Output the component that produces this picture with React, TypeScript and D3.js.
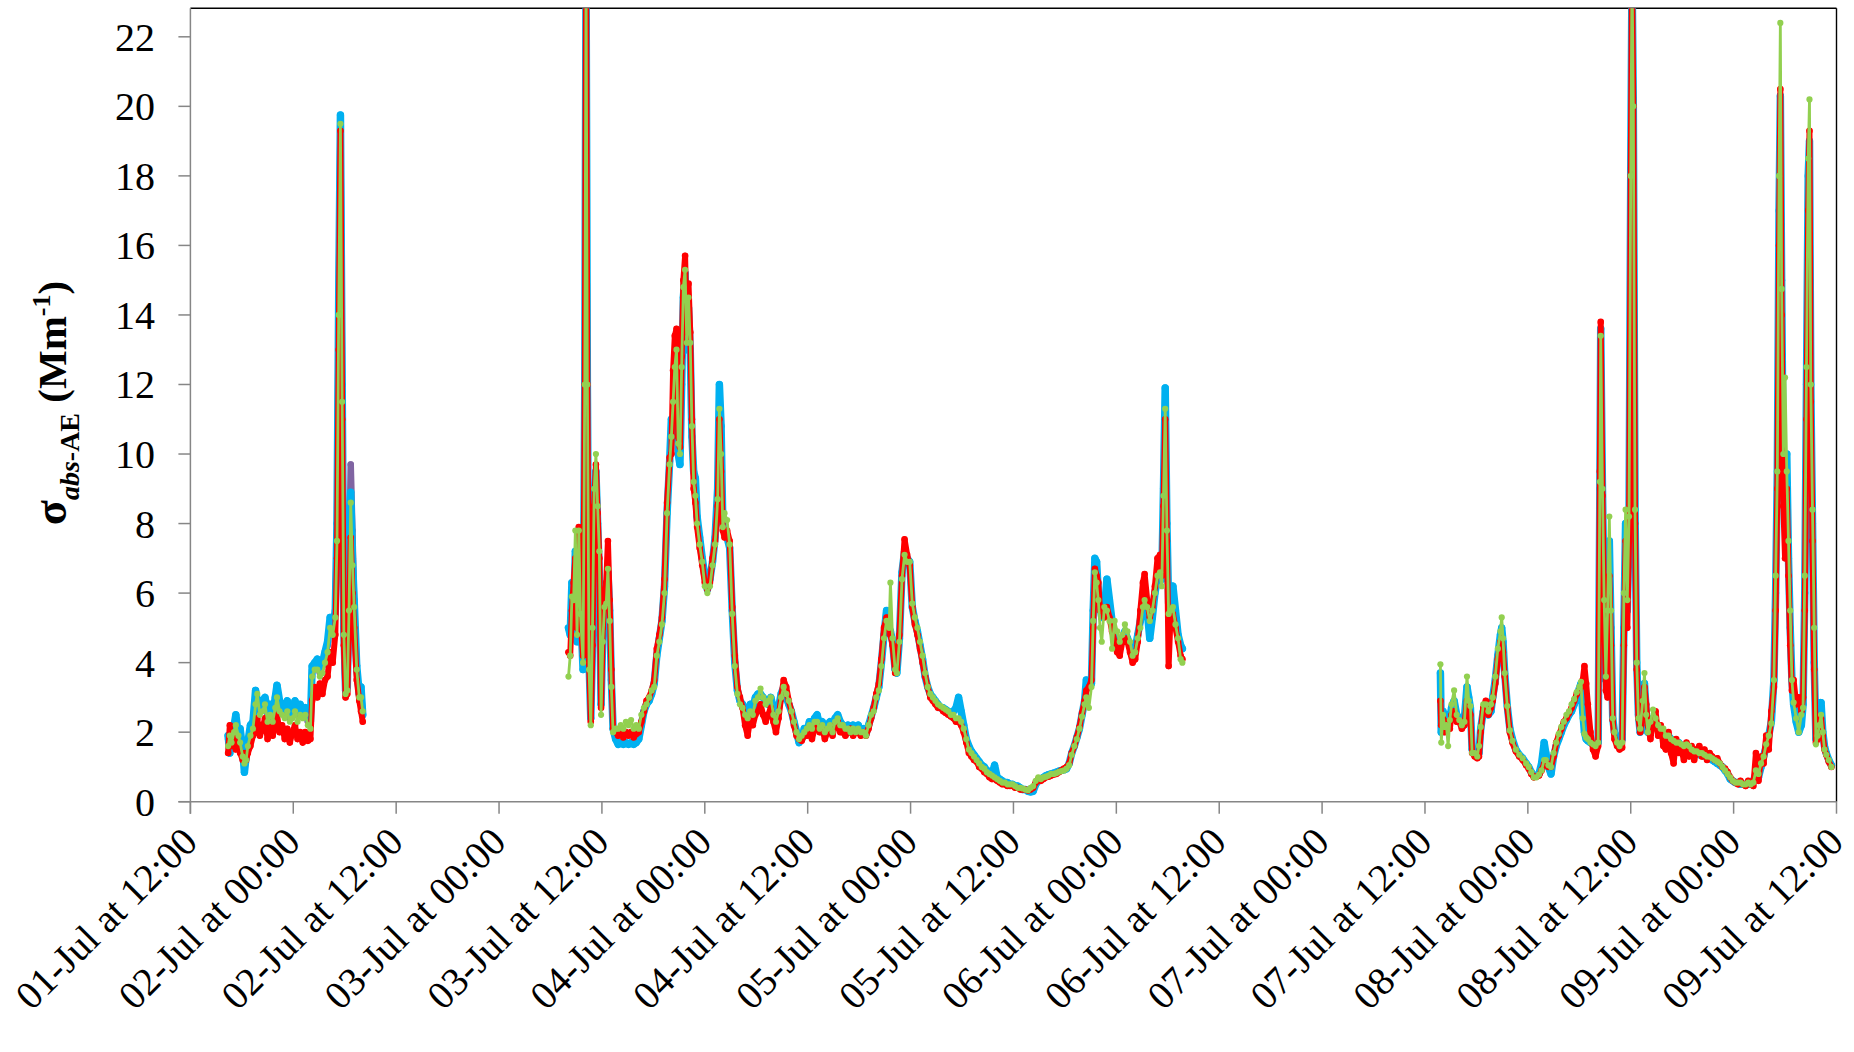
import React from "react";
import * as d3 from "d3";

// ---------- DATA (hours since 01-Jul 00:00) ----------
const seg1Times = [16.4,16.6,16.8,17.1,17.3,17.6,17.8,18.1,18.3,18.5,18.7,19.0,19.3,19.6,19.8,20.1,20.4,20.7,21.0,21.3,21.6,21.9,22.1,22.4,22.7,23.0,23.3,23.6,23.9,24.2,24.5,24.8,25.1,25.4,25.7,26.0,26.2,26.5,26.8,27.1,27.4,27.7,28.0,28.3,28.6,28.9,29.1,29.3,29.5,29.7,29.9,30.1,30.3,30.5,30.7,30.9,31.1,31.4,31.7,31.9,32.1];
const seg1Purple = [1.8,1.5,1.9,2.1,2.3,1.9,2.0,1.5,1.0,1.3,1.7,2.1,2.2,3.0,2.8,2.6,2.8,2.9,2.5,2.7,2.4,2.9,3.2,2.8,2.7,2.5,2.8,2.4,2.6,2.8,2.5,2.7,2.5,2.6,2.3,2.2,3.8,3.9,4.0,3.7,3.9,4.2,4.5,5.2,4.9,5.4,7.8,14.2,19.5,11.8,4.9,3.1,3.2,6.5,9.7,7.8,5.7,3.8,3.0,3.2,2.5];
const seg1Blue = [1.9,1.4,2.0,2.2,2.5,1.9,2.1,1.5,0.85,1.3,1.7,2.2,2.3,3.2,2.9,2.7,2.9,3.0,2.6,2.8,2.5,3.0,3.35,2.9,2.8,2.6,2.9,2.5,2.7,2.9,2.6,2.8,2.6,2.7,2.4,2.3,3.9,4.0,4.1,3.8,4.0,4.3,4.6,5.3,5.0,5.5,8.0,14.5,19.75,12.0,5.0,3.2,3.3,6.0,8.9,7.0,5.8,3.9,3.1,3.3,2.5];
const seg1Red = [1.4,2.2,1.6,1.9,1.5,1.7,1.4,1.2,1.4,1.2,1.4,1.6,1.9,2.0,2.4,1.9,2.1,2.4,1.8,2.2,1.9,2.3,2.5,2.0,2.2,1.8,2.1,1.7,2.0,2.2,1.8,2.0,1.7,2.0,1.75,1.8,2.9,3.3,3.0,3.4,3.1,3.5,3.6,4.3,4.0,4.8,7.0,13.0,19.3,11.0,4.5,3.0,3.1,5.0,7.6,6.0,5.0,3.5,2.9,2.6,2.3];
const seg1Green = [1.6,1.9,1.7,2.0,2.2,1.9,1.7,1.3,1.1,1.2,1.6,1.9,2.1,2.8,3.1,2.5,2.6,2.8,2.3,2.5,2.3,2.7,3.0,2.6,2.5,2.4,2.6,2.3,2.4,2.6,2.3,2.5,2.4,2.5,2.2,2.1,3.6,3.8,3.8,3.6,3.7,4.0,4.3,5.0,4.8,5.3,7.5,14.0,19.5,11.5,4.8,3.1,3.2,5.5,8.6,6.8,5.6,3.8,3.0,3.0,2.6];

const seg2Times = [
56.1,56.3,56.5,56.7,56.9,57.1,57.3,57.5,57.8,58.0,
58.15,58.3,58.5,58.7,58.9,59.1,59.3,59.5,59.7,59.9,
60.1,60.3,60.5,60.7,60.9,61.1,61.3,61.6,61.9,62.2,
62.5,62.8,63.1,63.4,63.7,64.0,64.3,64.6,64.9,65.2,
65.5,65.8,66.1,66.4,66.7,67.0,67.3,67.6,67.9,68.1,
68.3,68.5,68.7,68.9,69.1,69.3,69.5,69.7,69.9,70.1,
70.3,70.5,70.7,70.9,71.1,71.4,71.7,72.0,72.3,72.6,
72.9,73.2,73.5,73.7,73.9,74.1,74.3,74.6,74.9,75.2,
75.5,75.8,76.1,76.4,76.7,77.0,77.3,77.6,77.9,78.2,
78.5,78.8,79.1,79.4,79.7,80.0,80.3,80.6,80.9,81.2,
81.5,81.8,82.1,82.4,82.7,83.0,83.3,83.6,83.9,84.2,
84.5,84.8,85.1,85.4,85.7,86.0,86.3,86.6,86.9,87.2,
87.5,87.8,88.1,88.4,88.7,89.0,89.3,89.6,89.9,90.2,
90.5,90.8,91.1,91.4,91.7,92.0,92.3,92.6,92.9,93.2,
93.5,93.65,93.9,94.2,94.4,94.7,95.0,95.3,95.6,95.9,
96.2,96.5,96.8,97.1,97.4,97.7,98.0,98.3,98.6,98.9,
99.2,99.5,99.8,100.1,100.4,100.7,101.0,101.3,101.6,101.9,
102.2,102.5,102.8,103.1,103.4,103.7,104.0,104.3,104.6,104.9,
105.2,105.5,105.8,106.1,106.4,106.7,107.0,107.3,107.6,107.9,
108.2,108.5,108.8,109.1,109.4,109.7,110.0,110.3,110.6,110.9,
111.2,111.5,111.8,112.1,112.4,112.7,113.0,113.3,113.6,113.9,
114.2,114.5,114.8,115.1,115.4,115.7,116.0,116.3,116.5,116.8,
117.1,117.3,117.5,117.7,117.9,118.1,118.3,118.6,118.9,119.2,
119.5,119.8,120.1,120.4,120.7,121.0,121.3,121.6,121.9,122.2,
122.5,122.8,123.1,123.3,123.6,123.9,124.2,124.5,124.8,125.1,
125.3,125.5,125.7,125.9,126.1,126.3,126.6,126.9,127.2,127.5,
127.7];
const seg2Blue = [
5.0,4.8,6.3,5.4,7.2,4.6,7.7,5.6,3.8,12,
24,12,4.0,2.4,4.5,8.0,9.5,8.0,6.5,2.8,
4.8,5.7,5.3,6.6,5.5,3.5,2.1,1.8,1.65,1.7,
1.65,1.7,1.65,1.7,1.65,1.7,1.8,2.2,2.6,2.8,
2.9,3.1,3.4,4.2,4.7,5.2,6.2,8.3,9.8,11.0,
10.5,11.5,12.8,10.0,9.7,12.0,14.5,15.2,13.0,14.2,
13.0,10.5,9.5,9.3,8.2,7.6,7.0,6.5,6.1,6.4,
6.9,7.6,9.0,12.0,10.8,8.0,7.8,7.6,7.3,5.5,
4.0,3.2,2.9,2.8,2.5,2.6,2.8,2.7,3.0,3.1,
3.1,3.0,2.9,2.8,3.0,2.7,2.4,2.7,3.1,3.3,
3.0,2.8,2.6,2.3,2.0,1.7,1.8,2.1,2.0,2.3,
2.1,2.4,2.5,2.2,2.3,2.1,2.2,2.3,2.1,2.4,
2.5,2.3,2.2,2.1,2.2,2.0,2.2,2.1,2.2,2.0,
2.1,1.95,2.2,2.45,2.7,3.0,3.3,4.0,4.8,5.5,
5.0,4.9,4.6,3.8,3.7,4.7,6.6,7.2,7.0,6.9,
5.6,5.2,4.9,4.5,4.1,3.6,3.3,3.1,3.0,2.9,
2.8,2.7,2.7,2.65,2.6,2.5,2.6,2.7,3.0,2.6,
2.2,1.8,1.6,1.45,1.35,1.25,1.15,1.05,1.0,0.9,
0.85,0.8,1.05,0.7,0.65,0.6,0.55,0.55,0.5,0.5,
0.45,0.45,0.4,0.35,0.35,0.3,0.28,0.3,0.5,0.6,
0.65,0.7,0.75,0.78,0.8,0.82,0.85,0.88,0.9,0.92,
0.95,1.1,1.4,1.6,1.85,2.1,2.5,2.9,3.5,3.4,
3.4,5.5,7.0,6.9,6.0,5.6,5.3,5.5,6.4,5.8,
5.2,4.8,4.6,4.5,4.7,4.9,4.7,4.5,4.3,4.4,
4.8,5.2,5.8,6.0,5.5,4.7,5.3,6.0,6.4,6.8,
6.4,9.0,11.9,8.0,5.7,5.9,6.2,5.5,4.8,4.5,
4.4];
const seg2Red = [
4.3,4.2,5.5,6.3,7.0,5.0,7.9,5.2,4.2,12,
24,12,4.0,2.3,4.5,8.5,9.7,8.3,7.0,2.7,
5.0,5.8,6.3,7.5,5.8,3.8,2.1,2.0,1.9,2.0,
1.85,2.0,1.9,2.0,1.85,1.95,2.0,2.3,2.6,2.9,
3.0,3.2,3.5,4.4,4.8,5.3,6.4,8.6,9.9,10.0,
12.4,13.4,13.6,10.5,10.2,12.8,15.0,15.7,13.5,14.9,
13.5,11.0,9.0,8.6,7.9,7.3,6.8,6.3,6.1,6.3,
7.0,7.5,8.5,11.0,9.5,7.8,7.6,7.8,7.5,5.6,
4.2,3.3,3.0,2.7,2.2,1.9,2.4,2.2,2.5,2.6,
2.8,2.5,2.3,2.5,2.7,2.3,2.0,2.4,3.0,3.5,
3.3,2.9,2.6,2.2,1.9,1.8,1.75,1.9,1.9,2.0,
1.8,2.1,2.2,2.0,2.1,1.8,2.0,2.1,1.9,2.2,
2.3,2.0,2.0,1.9,2.0,2.1,1.9,2.0,2.0,1.9,
2.0,1.9,2.1,2.4,2.7,3.1,3.4,4.1,5.0,5.3,
5.1,4.8,4.5,3.7,3.8,4.8,6.5,7.55,7.1,6.8,
5.6,5.1,4.8,4.4,4.0,3.6,3.3,3.0,2.9,2.8,
2.7,2.7,2.6,2.55,2.5,2.45,2.4,2.3,2.3,2.2,
2.0,1.7,1.4,1.3,1.2,1.15,1.0,0.95,0.85,0.8,
0.7,0.65,0.65,0.6,0.55,0.5,0.5,0.45,0.45,0.45,
0.4,0.4,0.35,0.35,0.35,0.32,0.35,0.4,0.55,0.65,
0.6,0.65,0.7,0.72,0.75,0.78,0.8,0.85,0.9,0.95,
1.0,1.1,1.4,1.6,1.85,2.15,2.55,2.9,3.2,3.3,
3.5,5.0,6.7,6.5,6.3,5.5,5.6,5.3,5.6,5.3,
4.9,4.6,4.3,4.2,4.6,4.7,4.6,4.3,4.0,4.1,
4.6,5.5,6.3,6.55,5.8,5.3,5.6,6.2,7.0,7.1,
6.5,8.5,11.0,7.5,3.9,5.2,5.4,5.0,4.6,4.2,
4.1];
const seg2Green = [
3.6,4.2,5.9,5.8,7.8,4.8,7.8,5.4,4.0,12,
24,12,3.8,2.2,5.0,9.0,10.0,8.5,7.2,2.5,
4.6,5.6,5.7,6.7,5.2,3.3,2.0,2.1,2.1,2.2,
2.1,2.3,2.2,2.35,2.1,2.2,2.1,2.5,2.7,2.8,
3.0,3.2,3.3,4.2,4.6,5.1,6.0,8.3,9.7,10.5,
11.5,12.5,13.0,10.3,10.0,12.5,14.8,15.3,13.2,14.5,
13.2,10.8,9.2,8.8,8.0,7.4,6.9,6.2,6.0,6.2,
6.8,7.4,8.7,11.3,10.0,7.9,8.3,8.1,7.4,5.4,
3.9,3.1,2.8,2.7,2.5,2.4,2.6,2.5,2.9,3.0,
3.25,3.0,2.8,2.9,3.0,2.5,2.3,2.6,3.0,3.3,
3.1,2.9,2.6,2.3,2.0,1.8,1.9,2.0,2.1,2.2,
2.1,2.3,2.3,2.1,2.2,2.0,2.1,2.2,2.0,2.3,
2.4,2.2,2.2,2.1,2.1,2.0,2.1,2.0,2.1,2.0,
2.0,1.9,2.2,2.5,2.6,3.0,3.2,3.9,4.7,5.2,
5.0,6.3,4.7,3.8,3.7,4.6,6.4,7.1,6.9,6.9,
5.7,5.3,5.0,4.6,4.2,3.7,3.3,3.1,3.0,2.9,
2.8,2.75,2.7,2.65,2.6,2.5,2.5,2.4,2.4,2.3,
2.1,1.8,1.5,1.4,1.3,1.2,1.1,1.0,0.95,0.85,
0.8,0.75,0.7,0.65,0.6,0.55,0.55,0.5,0.5,0.5,
0.45,0.4,0.4,0.38,0.35,0.33,0.4,0.45,0.6,0.7,
0.65,0.7,0.72,0.75,0.8,0.8,0.82,0.86,0.88,0.9,
0.95,1.05,1.35,1.6,1.8,2.1,2.45,2.8,3.0,2.7,
3.3,5.2,6.6,6.3,5.8,5.0,4.6,5.6,5.5,5.2,
4.4,5.2,4.9,4.6,4.8,5.1,4.9,4.6,4.2,4.3,
4.7,5.0,5.6,5.8,5.6,5.2,5.5,6.0,6.5,6.6,
6.2,8.8,11.3,7.8,5.4,5.5,5.6,5.1,4.7,4.1,
4.0];

const seg3Times = [
157.8,157.9,158.1,158.3,158.5,158.7,158.9,159.1,159.4,159.7,
160.0,160.3,160.6,160.9,161.1,161.3,161.5,161.8,162.1,162.3,
162.5,162.8,163.1,163.4,163.7,163.9,164.2,164.5,164.8,164.95,
165.1,165.3,165.6,165.9,166.2,166.6,167.0,167.4,167.8,168.1,
168.4,168.7,169.0,169.3,169.6,169.9,170.1,170.4,170.7,171.0,
171.3,171.6,171.9,172.2,172.5,172.8,173.1,173.4,173.7,174.0,
174.2,174.4,174.6,174.8,175.0,175.3,175.6,175.9,176.2,176.4,
176.5,176.7,176.9,177.1,177.3,177.5,177.7,177.9,178.1,178.4,
178.7,179.0,179.2,179.4,179.6,179.8,180.0,180.15,180.3,180.5,
180.7,180.9,181.1,181.4,181.6,181.8,182.0,182.3,182.6,182.9,
183.2,183.5,183.8,184.1,184.4,184.7,185.0,185.3,185.6,185.9,
186.2,186.5,186.8,187.1,187.4,187.7,188.0,188.3,188.6,188.9,
189.2,189.5,189.8,190.1,190.4,190.7,191.0,191.3,191.6,191.9,
192.2,192.5,192.8,193.1,193.4,193.7,194.0,194.3,194.6,194.9,
195.2,195.5,195.8,196.1,196.4,196.7,196.9,197.1,197.3,197.45,
197.6,197.8,198.0,198.2,198.4,198.6,198.8,199.0,199.3,199.6,
199.9,200.1,200.3,200.5,200.7,200.85,201.0,201.2,201.4,201.6,
201.8,202.0,202.2,202.4,202.6,202.8,203.1,203.4];
const seg3Blue = [
3.7,2.0,2.6,2.2,2.4,2.5,2.4,2.7,2.9,2.5,
2.4,2.3,2.4,3.3,3.0,2.7,1.5,1.4,1.3,1.4,
2.1,2.6,2.7,2.5,2.6,3.0,3.5,4.2,4.8,5.0,
4.6,3.7,2.75,2.1,1.8,1.5,1.35,1.25,1.1,1.0,
0.85,0.75,0.75,0.8,1.1,1.7,1.4,1.0,0.8,1.3,
1.6,1.8,2.0,2.2,2.35,2.5,2.6,2.8,3.0,3.25,
3.4,2.6,2.0,1.8,1.75,1.7,1.65,1.6,1.7,9.0,
13.6,9.0,5.7,3.5,4.5,7.5,5.0,2.4,2.0,1.7,
1.6,1.8,5.0,8.0,5.5,8.0,18,24,20,8.4,
4.0,2.5,2.0,2.6,3.4,2.6,2.0,2.2,2.4,2.3,
2.1,2.0,2.0,1.8,1.9,1.8,1.7,1.65,1.7,1.6,
1.55,1.5,1.5,1.45,1.4,1.4,1.35,1.35,1.3,1.3,
1.25,1.2,1.15,1.1,1.05,1.0,0.9,0.8,0.65,0.6,
0.55,0.55,0.5,0.5,0.5,0.5,0.55,0.6,0.8,0.7,
1.0,1.3,1.6,1.9,2.3,3.5,6.0,9.5,17,20.3,
15.0,9.0,8.5,10.0,7.0,5.0,3.5,2.8,2.3,2.0,
2.2,2.8,6.0,12.0,18.0,19.0,12.0,8.0,4.0,1.8,
1.9,2.3,2.85,2.0,1.6,1.4,1.2,1.05];
const seg3Red = [
2.9,2.2,2.4,2.0,2.3,2.2,2.1,2.5,2.6,2.3,
2.3,2.1,2.2,2.9,2.7,2.5,1.4,1.3,1.25,1.3,
2.0,2.7,2.9,2.5,2.7,2.9,3.4,4.1,4.6,4.7,
4.3,3.6,2.7,2.0,1.7,1.45,1.3,1.2,1.05,0.95,
0.8,0.7,0.72,0.75,0.9,1.1,1.15,1.0,1.0,1.3,
1.7,1.9,2.1,2.3,2.4,2.55,2.7,2.9,3.1,3.2,
3.3,3.5,3.9,3.4,2.8,2.0,1.5,1.3,1.6,9.5,
13.8,8.8,5.5,3.2,3.0,6.5,4.5,2.35,1.8,1.6,
1.5,1.55,4.5,7.5,5.0,7.5,18,24,20,8.0,
3.8,2.4,2.0,2.5,3.3,2.8,2.2,1.8,2.3,2.6,
1.9,2.2,1.6,1.5,2.0,1.4,1.1,1.8,1.4,1.5,
1.2,1.7,1.3,1.6,1.2,1.5,1.6,1.3,1.5,1.2,
1.4,1.3,1.2,1.25,1.1,1.0,0.95,0.85,0.7,0.6,
0.55,0.5,0.6,0.5,0.45,0.6,0.5,0.45,1.4,0.6,
1.3,1.1,1.9,1.5,2.6,3.3,5.5,9.0,16,20.5,
14.0,8.5,7.0,9.0,6.5,4.5,3.2,3.5,2.8,3.0,
2.6,3.0,5.5,11.0,17.0,19.3,11.5,7.5,3.8,1.7,
1.8,2.1,2.4,1.9,1.5,1.35,1.15,1.0];
const seg3Green = [
3.95,1.7,2.5,2.15,2.2,1.6,2.35,2.8,3.2,2.5,
2.35,2.2,2.3,3.6,2.9,2.75,1.4,1.4,1.3,1.6,
2.15,2.8,2.8,2.6,2.8,3.0,3.6,4.4,4.9,5.3,
4.7,3.7,2.75,2.05,1.75,1.5,1.35,1.25,1.1,1.0,
0.85,0.7,0.7,0.78,0.9,1.2,1.2,1.05,1.0,1.4,
1.7,1.95,2.15,2.3,2.5,2.6,2.8,2.95,3.15,3.3,
3.45,2.4,1.95,1.85,1.8,1.7,1.65,1.6,1.7,9.2,
13.4,9.0,5.8,3.6,5.5,8.2,5.5,2.4,2.0,1.7,
1.6,1.7,6.0,8.4,5.8,8.2,18,24,20,8.4,
4.0,2.4,2.1,2.9,3.7,2.5,2.0,2.3,2.65,2.4,
2.2,2.1,2.1,1.9,1.9,1.8,1.75,1.7,1.7,1.65,
1.6,1.65,1.6,1.5,1.45,1.45,1.4,1.4,1.35,1.3,
1.3,1.25,1.2,1.15,1.1,1.0,0.9,0.8,0.7,0.6,
0.55,0.55,0.55,0.5,0.5,0.55,0.5,0.55,0.9,0.8,
1.1,1.3,1.65,1.9,2.25,3.5,6.5,9.5,18,22.4,
14.75,10.0,12.2,9.5,7.5,5.5,3.5,2.85,2.4,2.0,
2.5,2.7,6.5,12.5,18.5,20.2,12.0,8.4,5.0,1.65,
1.9,2.2,2.5,2.0,1.5,1.35,1.2,1.0];

const yTickValues = [0, 2, 4, 6, 8, 10, 12, 14, 16, 18, 20, 22];
const xStartHour = 12;   // 01-Jul at 12:00
const xEndHour = 204;    // 09-Jul at 12:00
const yMaxValue = 22.82;

// ---------- LAYOUT ----------
const W = 1854, H = 1052;
const PL = 190.4, PR = 1836.5, PT = 8.3, PB = 801.7;
const FONT = "'Liberation Serif', 'Times New Roman', Times, serif";

const base = new Date(2013, 6, 1, 0, 0, 0).getTime();
const toDate = (h: number) => new Date(base + h * 3600 * 1000);

const x = d3.scaleTime().domain([toDate(xStartHour), toDate(xEndHour)]).range([PL, PR]);
const y = d3.scaleLinear().domain([0, yMaxValue]).range([PB, PT]);
const fmt = d3.timeFormat("%d-%b at %H:%M");
const xTicks = d3.timeHour.every(12)!.range(toDate(xStartHour), toDate(xEndHour + 0.01));

type Seg = [number[], number[]];
const seriesList: { key: string; color: string; lw: number; r: number; segs: Seg[] }[] = [
  { key: "purple", color: "#8064A2", lw: 6.5, r: 3.2, segs: [[seg1Times, seg1Purple]] },
  { key: "blue", color: "#00B0F0", lw: 7.5, r: 3.6, segs: [[seg1Times, seg1Blue], [seg2Times, seg2Blue], [seg3Times, seg3Blue]] },
  { key: "red", color: "#FF0000", lw: 6, r: 3.3, segs: [[seg1Times, seg1Red], [seg2Times, seg2Red], [seg3Times, seg3Red]] },
  { key: "green", color: "#92D050", lw: 2.8, r: 3.1, segs: [[seg1Times, seg1Green], [seg2Times, seg2Green], [seg3Times, seg3Green]] },
];

const line = d3.line<[number, number]>()
  .x((d) => x(toDate(d[0])))
  .y((d) => y(d[1]));

export default function App() {
  return (
    <svg width={W} height={H} style={{ position: "absolute", left: 0, top: 0, background: "#fff" }}>
      <defs>
        <clipPath id="plotClip">
          <rect x={PL} y={PT} width={PR - PL} height={PB - PT} />
        </clipPath>
      </defs>
      <rect x={0} y={0} width={W} height={H} fill="#fff" />
      {/* plot border */}
      <line x1={PL} x2={PR} y1={PT} y2={PT} stroke="#000" strokeWidth={1.4} />
      <line x1={PR} x2={PR} y1={PT} y2={PB} stroke="#000" strokeWidth={1.4} />

      {/* data */}
      <g clipPath="url(#plotClip)">
        {seriesList.map((s) => (
          <g key={s.key}>
            {s.segs.map(([ts, vs], i) => {
              const pts = ts.map((t, j) => [t, vs[j]] as [number, number]);
              return (
                <g key={i}>
                  <path d={line(pts) || ""} fill="none" stroke={s.color} strokeWidth={s.lw} strokeLinejoin="round" strokeLinecap="round" />
                  {pts.map((p, j) => (
                    <circle key={j} cx={x(toDate(p[0]))} cy={y(p[1])} r={s.r} fill={s.color} />
                  ))}
                </g>
              );
            })}
          </g>
        ))}
      </g>

      {/* y axis */}
      <line x1={PL} x2={PL} y1={PT} y2={PB + 12} stroke="#868686" strokeWidth={1.5} />
      {yTickValues.map((v) => (
        <g key={v}>
          <line x1={PL - 12} x2={PL} y1={y(v)} y2={y(v)} stroke="#868686" strokeWidth={1.5} />
          <text x={155} y={y(v) + 14} textAnchor="end" fontFamily={FONT} fontSize={40} fill="#000">{v}</text>
        </g>
      ))}

      {/* x axis */}
      <line x1={PL - 12} x2={PR} y1={PB} y2={PB} stroke="#868686" strokeWidth={1.5} />
      {xTicks.map((d, i) => {
        const xx = x(d);
        return (
          <g key={i}>
            <line x1={xx} x2={xx} y1={PB} y2={PB + 12} stroke="#868686" strokeWidth={1.5} />
            <text transform={`translate(${xx + 9},${844}) rotate(-45)`} textAnchor="end" fontFamily={FONT} fontSize={39.5} fill="#000">{fmt(d)}</text>
          </g>
        );
      })}

      {/* y title */}
      <text transform="translate(66,403) rotate(-90)" textAnchor="middle" fontFamily={FONT} fontSize={41} fontWeight="bold" fill="#000">
        <tspan fontSize={46}>σ</tspan>
        <tspan fontSize={28} fontStyle="italic" dy={13}>abs</tspan>
        <tspan fontSize={28}>-AE</tspan>
        <tspan fontSize={41} dy={-13}>{" (Mm"}</tspan>
        <tspan fontSize={26} dy={-16}>-1</tspan>
        <tspan fontSize={41} dy={16}>)</tspan>
      </text>
    </svg>
  );
}
